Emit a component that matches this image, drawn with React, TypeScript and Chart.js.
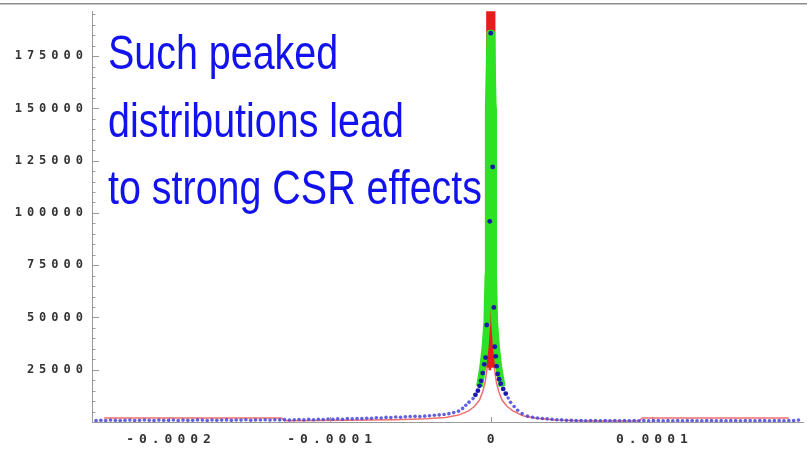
import { useEffect, useRef } from "react";
import { Chart, registerables } from "chart.js";

Chart.register(...registerables);

// ---- axes ----
const xMin = -0.0002475;
const xMax = 0.0001938;
const yMin = 0;
const yMax = 196500;
const xTickValues = [-0.0002, -0.0001, 0, 0.0001];
const xTickLabels = ["-0.0002", "-0.0001", "0", "0.0001"];
const yTickValues = [25000, 50000, 75000, 100000, 125000, 150000, 175000];
const yTickLabels = ["25000", "50000", "75000", "100000", "125000", "150000", "175000"];
const yMinorStep = 5000;

// ---- blue points (broad distribution) ----
const blueX = [
  -245e-6, -242e-6, -239e-6, -236e-6, -233e-6, -230e-6, -227e-6, -224e-6, -221e-6, -218e-6,
  -215e-6, -212e-6, -209e-6, -206e-6, -203e-6, -200e-6, -197e-6, -194e-6, -191e-6, -188e-6,
  -185e-6, -182e-6, -179e-6, -176e-6, -173e-6, -170e-6, -167e-6, -164e-6, -161e-6, -158e-6,
  -155e-6, -152e-6, -149e-6, -146e-6, -143e-6, -140e-6, -137e-6, -134e-6, -131e-6, -128e-6,
  -125e-6, -122e-6, -119e-6, -116e-6, -113e-6, -110e-6, -107e-6, -104e-6, -101e-6, -98e-6,
  -95e-6, -92e-6, -89e-6, -86e-6, -83e-6, -80e-6, -77e-6, -74e-6, -71e-6, -68e-6,
  -65e-6, -62e-6, -59e-6, -56e-6, -53e-6, -50e-6, -47e-6, -44e-6, -41e-6, -38e-6,
  -35e-6, -32e-6,
  -29e-6, -26e-6, -23e-6, -20e-6, -17.5e-6, -15.5e-6, -13.5e-6, -11e-6, -9.5e-6, -8e-6,
  -7e-6, -6e-6, -5e-6, -4e-6, -3.2e-6, -2.5e-6, -0.6e-6, 0,
  1.2e-6, 1.9e-6, 2.5e-6, 3.1e-6, 3.6e-6, 4.3e-6, 5.2e-6, 6.2e-6, 7.7e-6, 9.3e-6,
  10.8e-6, 12.3e-6, 14.5e-6, 16.7e-6, 19.5e-6, 22.8e-6, 26e-6, 29e-6,
  32e-6, 35e-6, 38e-6, 41e-6, 44e-6, 47e-6, 50e-6, 53e-6, 56e-6, 59e-6,
  62e-6, 65e-6, 68e-6, 71e-6, 74e-6, 77e-6, 80e-6, 83e-6, 86e-6, 89e-6,
  92e-6, 95e-6, 98e-6, 101e-6, 104e-6, 107e-6, 110e-6, 113e-6, 116e-6, 119e-6,
  122e-6, 125e-6, 128e-6, 131e-6, 134e-6, 137e-6, 140e-6, 143e-6, 146e-6, 149e-6,
  152e-6, 155e-6, 158e-6, 161e-6, 164e-6, 167e-6, 170e-6, 173e-6, 176e-6, 179e-6,
  182e-6, 185e-6, 188e-6, 191e-6,
];
const blueY = [
  700, 850, 750, 900, 800, 700, 850, 900, 750, 800,
  950, 850, 700, 900, 800, 850, 950, 750, 900, 800,
  850, 1000, 900, 750, 950, 850, 900, 1000, 800, 950,
  900, 1050, 850, 1000, 950, 1100, 900, 1050, 1000, 1150,
  950, 1100, 1200, 1000, 1250, 1100, 1300, 1200, 1400, 1300,
  1500, 1350, 1600, 1500, 1700, 1600, 1800, 1750, 2000, 1900,
  2200, 2100, 2400, 2300, 2500, 2600, 2700, 2600, 2800, 3000,
  3200, 3400,
  3600, 4000, 4500, 5200, 6500, 8000, 9500, 11200, 13000, 15000,
  17300, 19700, 23400, 27600, 30800, 46400, 96000, 186000,
  122000, 54800, 36000, 31400, 26700, 23000, 20500, 18300, 15800, 13600,
  11500, 9400, 7400, 5600, 4000, 2800, 2300, 1900,
  1700, 1500, 1300, 1100, 1000, 850, 800, 700, 750, 600,
  700, 650, 600, 700, 550, 650, 600, 700, 600, 650,
  550, 700, 600, 650, 700, 600, 650, 550, 700, 600,
  650, 700, 600, 550, 650, 700, 600, 650, 600, 700,
  650, 600, 700, 650, 600, 700, 650, 600, 650, 700,
  600, 650, 700, 900,
];

// ---- green narrow peak ----
const greenX = [
  -7e-6, -5e-6, -3.5e-6, -2.4e-6, -1.7e-6, -1.5e-6, -0.5e-6,
  0.5e-6, 1.5e-6, 1.7e-6, 2.4e-6, 3.5e-6, 5e-6, 7e-6,
];
const greenY = [
  17000, 26000, 36000, 48000, 70000, 150000, 186000,
  186000, 150000, 70000, 48000, 36000, 26000, 17000,
];

// ---- red distribution (thin tails) ----
const redX = [
  -240e-6, -130e-6, -128e-6, -90e-6, -60e-6, -40e-6, -28e-6, -20e-6, -14e-6, -10e-6,
  -7e-6, -5e-6, -3.5e-6, -2.2e-6, 0, 2.2e-6, 3.5e-6, 5e-6, 7e-6, 10e-6,
  14e-6, 20e-6, 28e-6, 40e-6, 60e-6, 92e-6, 94e-6, 185e-6,
];
const redY = [
  1900, 1900, 600, 800, 1100, 1500, 2200, 3300, 5200, 7500,
  10500, 14500, 19000, 26000, null, 26000, 19000, 14500, 10500, 7500,
  5200, 3000, 1800, 900, 500, 500, 1900, 1900,
];

// ---- red central spike (goes off the top) ----
const redPeakX = [-1.4e-6, -1.3e-6, 1.3e-6, 1.4e-6];
const redPeakY = [26000, 300000, 300000, 26000];

const annotationLines = ["Such peaked", "distributions lead", "to strong CSR effects"];

const pts = (xs: number[], ys: (number | null)[]) => xs.map((x, i) => ({ x, y: ys[i] }));

const decorPlugin = {
  id: "decor",
  beforeDraw(chart: any) {
    (chart.ctx as any).letterSpacing = "5px";
  },
  beforeDatasetsDraw(chart: any) {
    const ctx = chart.ctx as any;
    ctx.letterSpacing = "0px";
    const { left, bottom } = chart.chartArea;
    const ys = chart.scales.y;
    const xs = chart.scales.x;
    ctx.save();
    ctx.strokeStyle = "#9a9a9a";
    ctx.lineWidth = 1;
    ctx.beginPath();
    for (let v = yMinorStep; v <= yMax; v += yMinorStep) {
      const py = Math.round(ys.getPixelForValue(v)) + 0.5;
      const len = yTickValues.includes(v) ? 7 : 3.5;
      ctx.moveTo(left, py);
      ctx.lineTo(left + len, py);
    }
    xTickValues.forEach((v) => {
      const px = Math.round(xs.getPixelForValue(v)) + 0.5;
      ctx.moveTo(px, bottom);
      ctx.lineTo(px, bottom - 5);
    });
    ctx.stroke();
    ctx.restore();
  },
  afterDraw(chart: any) {
    const ctx = chart.ctx as any;
    ctx.save();
    ctx.letterSpacing = "0px";
    ctx.fillStyle = "#8c8c8c";
    ctx.fillRect(0, 3, chart.width, 1.5);
    ctx.font = '48px "Liberation Sans", Arial, sans-serif';
    ctx.fillStyle = "rgb(18,18,238)";
    ctx.textBaseline = "alphabetic";
    ctx.textAlign = "left";
    const w = ctx.measureText(annotationLines[2]).width;
    const sx = 374 / w;
    annotationLines.forEach((line, i) => {
      ctx.save();
      ctx.translate(108, 69 + i * 67.5);
      ctx.scale(sx, 1);
      ctx.fillText(line, 0, 0);
      ctx.restore();
    });
    ctx.restore();
  },
};

export default function App() {
  const ref = useRef<HTMLCanvasElement>(null);
  useEffect(() => {
    const chart = new Chart(ref.current as HTMLCanvasElement, {
      type: "scatter",
      data: {
        datasets: [
          {
            label: "blue",
            data: pts(blueX, blueY),
            showLine: false,
            pointRadius: (c: any) => (c.raw && c.raw.y > 12000 ? 2.4 : 1.8),
            pointBackgroundColor: (c: any) =>
              c.raw && c.raw.y > 12000 ? "rgb(25,25,170)" : "rgba(70,70,220,0.85)",
            pointBorderWidth: 0,
            order: 1,
          },
          {
            label: "green",
            data: pts(greenX, greenY),
            showLine: true,
            borderColor: "rgb(45,225,35)",
            borderWidth: 7,
            borderJoinStyle: "round",
            pointRadius: 0,
            order: 2,
          },
          {
            label: "redPeak",
            data: pts(redPeakX, redPeakY),
            showLine: true,
            borderColor: "rgb(232,28,28)",
            borderWidth: 5,
            pointRadius: 0,
            order: 3,
          },
          {
            label: "red",
            data: pts(redX, redY),
            showLine: true,
            spanGaps: false,
            borderColor: "rgba(238,95,95,0.9)",
            borderWidth: 1.5,
            pointRadius: 0,
            order: 4,
          },
        ] as any,
      },
      options: {
        responsive: false,
        animation: false,
        devicePixelRatio: 1,
        events: [],
        layout: { padding: { top: 4, left: 0, right: 0, bottom: 0 } },
        plugins: { legend: { display: false }, tooltip: { enabled: false }, title: { display: false } },
        scales: {
          x: {
            type: "linear",
            min: xMin,
            max: xMax,
            afterBuildTicks: (s: any) => {
              s.ticks = xTickValues.map((v) => ({ value: v }));
            },
            afterFit: (s: any) => {
              s.height = 27;
            },
            grid: { display: false, drawTicks: false },
            border: { display: true, color: "#9a9a9a", width: 1 },
            ticks: {
              callback: (_v: any, i: number) => xTickLabels[i],
              font: { family: '"DejaVu Sans Mono", monospace', size: 13, weight: "bold" },
              color: "#333",
              padding: 10,
              labelOffset: 2.5,
              maxRotation: 0,
              autoSkip: false,
            },
          },
          y: {
            type: "linear",
            min: yMin,
            max: yMax,
            afterBuildTicks: (s: any) => {
              s.ticks = yTickValues.map((v) => ({ value: v }));
            },
            afterFit: (s: any) => {
              s.width = 92;
            },
            grid: { display: false, drawTicks: false },
            border: { display: true, color: "#9a9a9a", width: 1 },
            ticks: {
              callback: (_v: any, i: number) => yTickLabels[i],
              font: { family: '"DejaVu Sans Mono", monospace', size: 12, weight: "bold" },
              color: "#333",
              padding: 4,
              autoSkip: false,
            },
          },
        },
      } as any,
      plugins: [decorPlugin],
    });
    return () => chart.destroy();
  }, []);
  return (
    <div style={{ position: "fixed", left: 0, top: 0, width: 807, height: 449, background: "#fff" }}>
      <canvas ref={ref} width={807} height={449} style={{ display: "block", width: 807, height: 449 }} />
    </div>
  );
}
